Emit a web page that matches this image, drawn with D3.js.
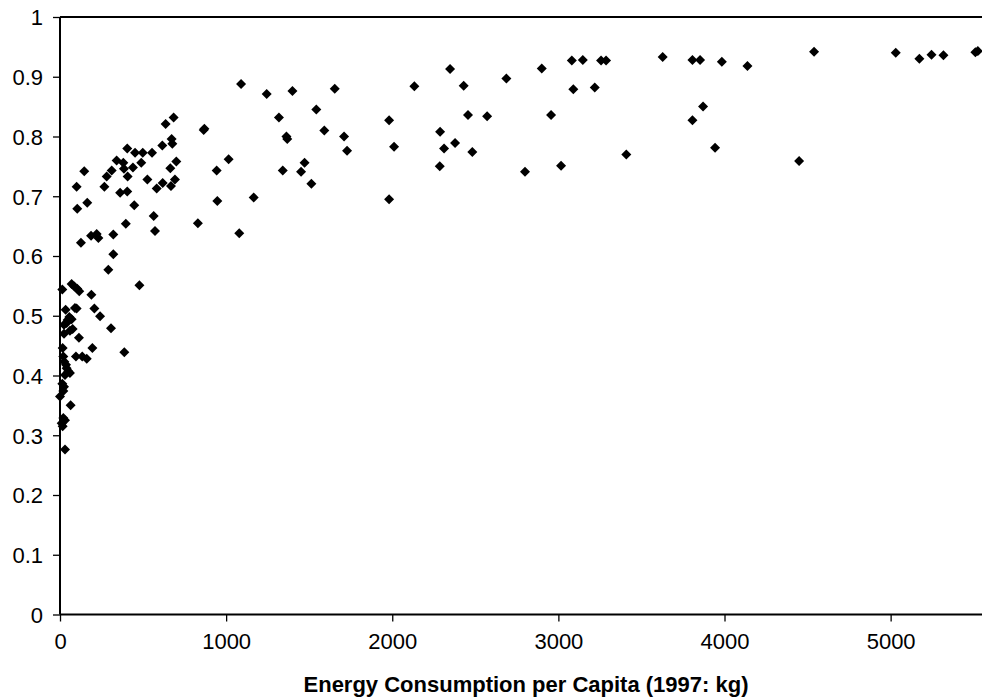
<!DOCTYPE html>
<html>
<head>
<meta charset="utf-8">
<script src="https://cdn.jsdelivr.net/npm/d3@7"></script>
<style>
  body { margin: 0; background: #fff; }
  svg { display: block; font-family: "Liberation Sans", Arial, sans-serif; }
</style>
</head>
<body>
<svg id="chart" width="982" height="699"></svg>
<script>
// energy consumption per capita (kg, 1997) for each country
const energyPerCapita = [
  1090, 1244, 1399, 1654, 1543, 1318, 869, 865, 1591, 1363, 1368, 1710, 1728, 1015, 943, 1341,
  1472, 1451, 1513, 947, 1166, 1079, 830, 1981, 2011, 1981, 2133, 2348, 2430, 2456, 2571, 2288,
  2312, 2378, 2482, 2286, 2687, 2900, 3081, 3147, 3257, 3287, 3628, 3807, 3853, 3984, 4138, 3090,
  3219, 2956, 3871, 3807, 3943, 3409, 3016, 2799, 4539, 5031, 5173, 5246, 5318, 5510, 5525, 4449,
  684, 636, 672, 676, 616, 405, 452, 498, 554, 341, 381, 489, 385, 439, 407, 700,
  664, 311, 281, 146, 100, 267, 526, 692, 618, 668, 582, 362, 405, 104, 164, 447,
  564, 572, 396, 126, 187, 231, 221, 321, 321, 291,
  478, 70, 86, 104, 116, 14, 189, 207, 241, 307, 90, 100, 34, 56, 46, 70,
  40, 24, 76, 60, 24, 114, 16, 195, 387, 96, 134, 161, 20, 26, 36, 40,
  50, 60, 30, 14, 24, 20, 0, 64, 20, 30, 10, 16, 30
];

// matching index value for each country
const indexValue = [
  0.888, 0.871, 0.876, 0.880, 0.845, 0.832, 0.813, 0.811, 0.810, 0.800, 0.796, 0.800, 0.776, 0.762, 0.743, 0.743,
  0.756, 0.741, 0.721, 0.692, 0.698, 0.638, 0.655, 0.827, 0.783, 0.695, 0.884, 0.913, 0.885, 0.836, 0.834, 0.808,
  0.780, 0.789, 0.774, 0.750, 0.897, 0.914, 0.927, 0.928, 0.927, 0.927, 0.933, 0.928, 0.928, 0.925, 0.918, 0.879,
  0.882, 0.836, 0.850, 0.827, 0.781, 0.770, 0.751, 0.741, 0.942, 0.940, 0.930, 0.937, 0.936, 0.941, 0.943, 0.759,
  0.832, 0.821, 0.796, 0.788, 0.785, 0.780, 0.773, 0.773, 0.773, 0.760, 0.756, 0.756, 0.746, 0.748, 0.733, 0.758,
  0.747, 0.743, 0.733, 0.742, 0.716, 0.716, 0.728, 0.728, 0.722, 0.717, 0.713, 0.706, 0.708, 0.679, 0.689, 0.685,
  0.667, 0.642, 0.654, 0.622, 0.634, 0.630, 0.637, 0.636, 0.603, 0.577,
  0.551, 0.553, 0.549, 0.545, 0.541, 0.544, 0.535, 0.512, 0.499, 0.479, 0.513, 0.512, 0.510, 0.498, 0.493, 0.494,
  0.488, 0.485, 0.478, 0.475, 0.470, 0.463, 0.446, 0.446, 0.439, 0.432, 0.432, 0.428, 0.432, 0.423, 0.418, 0.412,
  0.407, 0.404, 0.401, 0.386, 0.381, 0.374, 0.365, 0.350, 0.329, 0.325, 0.320, 0.315, 0.276
];

const xTicks = [0, 1000, 2000, 3000, 4000, 5000];
const yTicks = [0, 0.1, 0.2, 0.3, 0.4, 0.5, 0.6, 0.7, 0.8, 0.9, 1];
const xTitle = 'Energy Consumption per Capita (1997: kg)';

// plot area; it runs on past the right edge of the picture
const plot = {left: 60, top: 17, bottom: 614.5, right: 982};

const svg = d3.select('#chart');

const x = d3.scaleLinear().domain([0, 5550]).range([plot.left, plot.right]);
const y = d3.scaleLinear().domain([0, 1]).range([plot.bottom, plot.top]);

// top border line
svg.append('line')
    .attr('x1', plot.left).attr('x2', plot.right)
    .attr('y1', plot.top).attr('y2', plot.top)
    .attr('stroke', '#000').attr('stroke-width', 2);

let xAxis = svg.append('g')
    .attr('transform', 'translate(0,' + plot.bottom + ')')
    .call(d3.axisBottom(x).tickValues(xTicks).tickSize(7).tickPadding(12).tickFormat(d3.format('d')));

let yAxis = svg.append('g')
    .attr('transform', 'translate(' + plot.left + ',0)')
    .call(d3.axisLeft(y).tickValues(yTicks).tickSize(7).tickPadding(10).tickFormat(d => String(+d.toFixed(1))));

[xAxis, yAxis].forEach(function(g) {
    g.select('.domain').attr('stroke', '#000').attr('stroke-width', 2);
    g.selectAll('.tick line').attr('stroke', '#000').attr('stroke-width', 1.3);
    g.selectAll('.tick text')
        .attr('fill', '#000')
        .attr('font-size', '22px')
        .attr('font-family', '"Liberation Sans", Arial, sans-serif');
});
yAxis.select('.domain').attr('d', 'M0,' + plot.bottom + 'V' + plot.top);
xAxis.select('.domain').attr('d', 'M' + plot.left + ',0H' + plot.right);
yAxis.selectAll('.tick text').attr('dy', '0.36em');

const points = energyPerCapita.map((d, i) => ({e: d, v: indexValue[i]}));

svg.append('g')
    .selectAll('path')
    .data(points)
    .enter().append('path')
    .attr('d', d3.symbol().type(d3.symbolSquare).size(50))
    .attr('transform', d => 'translate(' + x(d.e) + ',' + y(d.v) + ') rotate(45)')
    .attr('fill', '#000');

svg.append('text')
    .attr('x', 526)
    .attr('y', 692)
    .attr('text-anchor', 'middle')
    .attr('font-size', '22px')
    .attr('font-weight', 'bold')
    .attr('fill', '#000')
    .text(xTitle);
</script>
</body>
</html>
